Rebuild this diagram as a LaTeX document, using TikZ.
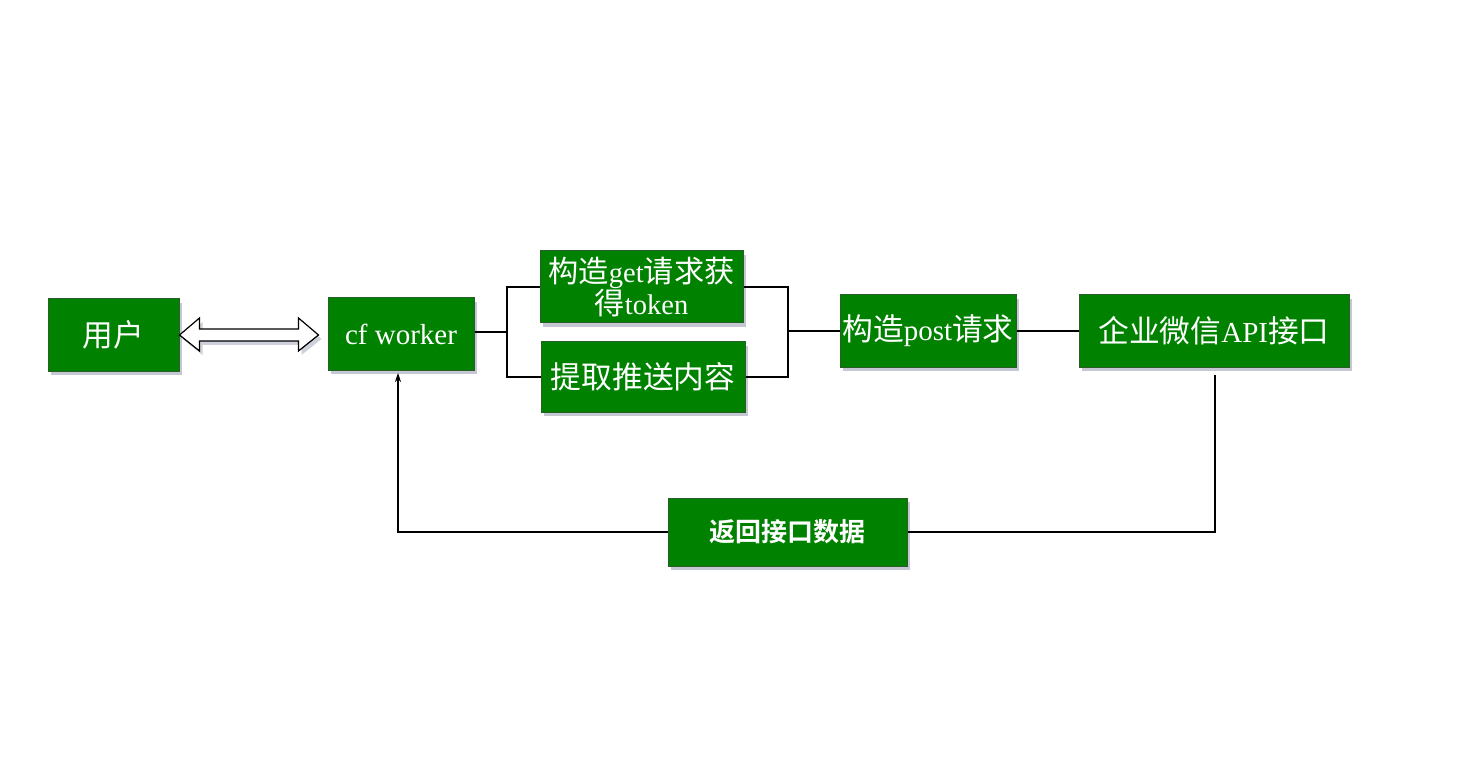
\documentclass[tikz,border=0pt]{standalone}
\usepackage{fontspec}
\setmainfont{Liberation Serif}
\newfontfamily\cjk[Scale=1.06]{Noto Sans CJK SC}
\newfontfamily\cjkb{Noto Sans CJK SC Bold}
\usetikzlibrary{calc,shadows,arrows.meta}
\definecolor{boxgreen}{RGB}{0,130,0}
\definecolor{boxedge}{RGB}{40,95,40}
\definecolor{shadowc}{RGB}{150,155,175}
\tikzset{
  gbox/.style={draw=boxedge, line width=1pt, fill=boxgreen, text=white,
    inner sep=0pt, align=center,
    font=\fontsize{29}{31}\selectfont,
    drop shadow={shadow xshift=3pt, shadow yshift=-4pt, fill=shadowc, opacity=0.55}},
  conn/.style={draw=black, line width=1.1pt},
}
\begin{document}
\begin{tikzpicture}[x=1pt,y=-1pt]
\useasboundingbox (0,0) rectangle (1461,783);
\fill[white] (0,0) rectangle (1461,783);

\node[gbox, minimum width=131pt, minimum height=72pt] (user) at (113.5,335) {\cjk 用户};
\node[gbox, minimum width=146pt, minimum height=72pt] (cf) at (401,334) {cf worker};
\node[gbox, minimum width=203pt, minimum height=72pt, font=\fontsize{28.5}{31}\selectfont] (get) at (641.5,287) {\cjk 构造{\rmfamily get}请求获\\\cjk 得{\rmfamily token}};
\node[gbox, minimum width=204pt, minimum height=70pt] (ext) at (643,377) {\cjk 提取推送内容};
\node[gbox, minimum width=176pt, minimum height=72pt] (post) at (928,331) {\cjk 构造{\rmfamily post}请求};
\node[gbox, minimum width=270pt, minimum height=72pt] (api) at (1214,331) {\cjk 企业微信{\rmfamily API}接口};
\node[gbox, minimum width=239pt, minimum height=68pt, font=\fontsize{26}{28}\selectfont] (ret) at (787.5,532) {\cjkb 返回接口数据};

% double block arrow between user and cf worker
\coordinate (la) at (user.east);
\coordinate (ra) at ($(cf.west |- user.east)+(-9,0)$);
\draw[line width=1.2pt, fill=white,
  drop shadow={shadow xshift=3pt, shadow yshift=-4pt, fill=shadowc, opacity=0.45}]
  (la) -- ($(la)+(20,-17)$) -- ($(la)+(20,-6)$) -- ($(ra)+(-20,-6)$) -- ($(ra)+(-20,-17)$)
  -- (ra) -- ($(ra)+(-20,16)$) -- ($(ra)+(-20,6)$) -- ($(la)+(20,6)$) -- ($(la)+(20,16)$) -- cycle;

% branching
\coordinate (jl) at (507,332);
\coordinate (jr) at (788,331);
\draw[conn] (cf.east |- jl) -- (jl);
\draw[conn] (get.west) -| (jl) |- (ext.west);
\draw[conn] (get.east) -| (jr) |- (ext.east);
\draw[conn] (jr) -- (post.west);
\draw[conn] (post.east) -- (api.west);

% return path
\coordinate (apib) at (1215,375);
\coordinate (cfb) at (398,373);
\draw[conn] (apib) |- (ret.east);
\draw[conn, -{Stealth[length=9pt,width=6pt]}] (ret.west) -| (cfb);
\end{tikzpicture}
\end{document}
